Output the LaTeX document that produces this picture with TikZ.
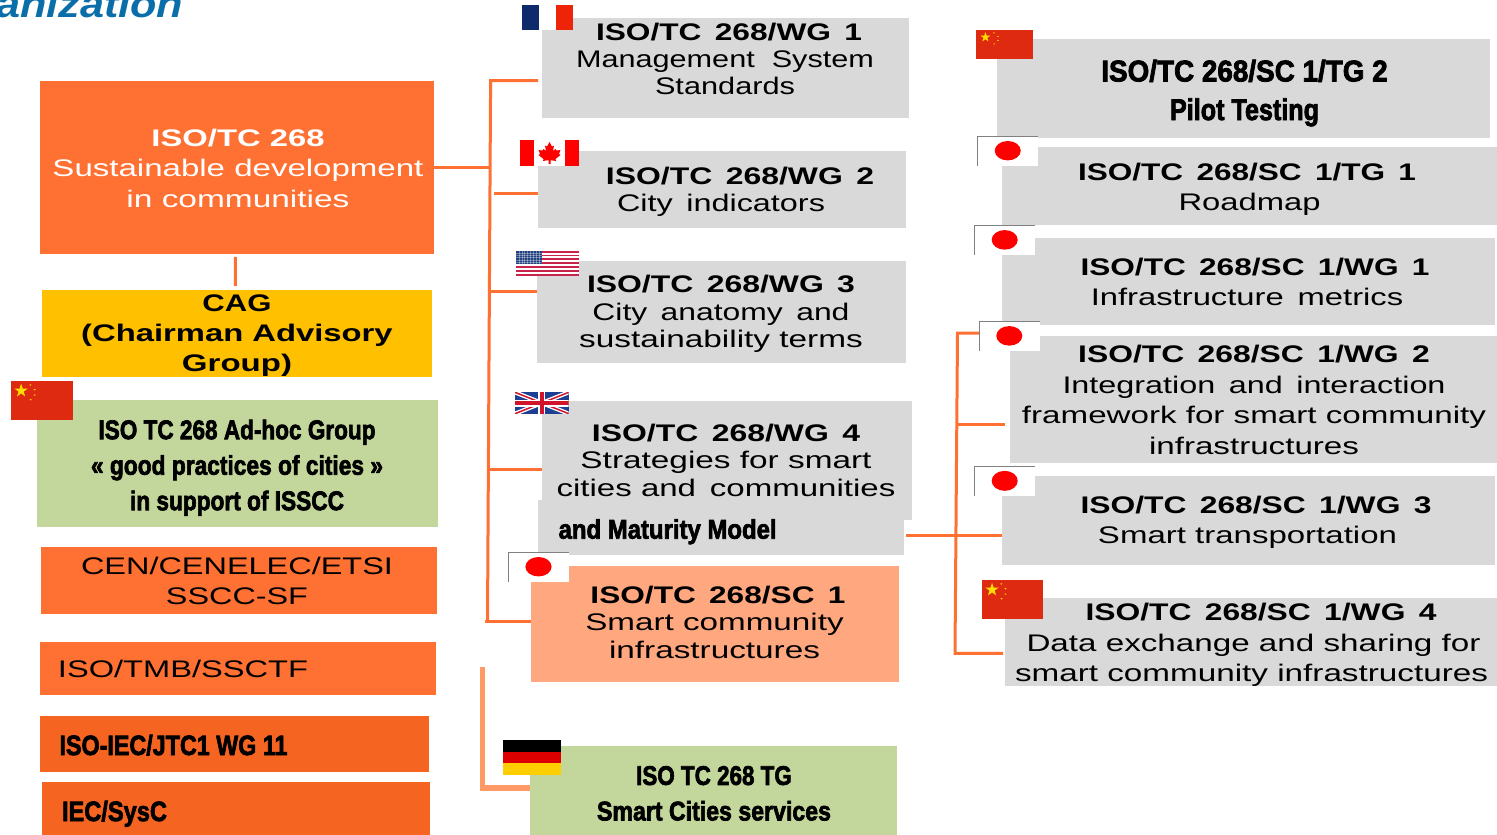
\documentclass[tikz,border=0pt]{standalone}
\usepackage{graphicx}
\usepackage{fontspec}
\setmainfont{Liberation Sans}
\newfontfamily\heavy[BoldFeatures={FakeBold=2.6}]{Liberation Sans}
\usetikzlibrary{shapes.geometric,calc}
\definecolor{orA}{HTML}{FF7033}
\definecolor{orB}{HTML}{F66422}
\definecolor{orC}{HTML}{FFA77F}
\definecolor{orD}{HTML}{FF9A66}
\definecolor{yel}{HTML}{FFC000}
\definecolor{grn}{HTML}{C3D69B}
\definecolor{gry}{HTML}{D9D9D9}
\definecolor{cnred}{HTML}{DE2A10}
\definecolor{cnyel}{HTML}{FFDE00}
\definecolor{ttl}{HTML}{0A6FA8}
\definecolor{frblue}{HTML}{0F2A6B}
\definecolor{frred}{HTML}{EE2409}
\definecolor{usred}{HTML}{C8244A}
\definecolor{usblue}{HTML}{1F3F7F}
\definecolor{ukblue}{HTML}{1C3F94}
\definecolor{ukred}{HTML}{CF142B}
\definecolor{dered}{HTML}{DD0000}
\definecolor{deyel}{HTML}{FFCE00}
\newcommand\fs[2]{\fontsize{#1}{#2}\selectfont}
\newcommand\gp{\hspace{.42em}}
% one line: target width, horizontal shift from the node centre, text
\newcommand\tline[3]{\hspace*{2\dimexpr #2pt\relax}\rule{0pt}{.716em}\smash{\resizebox{#1pt}{\height}{#3}}}
\newcommand\tb[3]{\tline{#1}{#2}{\bfseries #3}}
\tikzset{
  rect/.style={rectangle,inner sep=0pt,outer sep=0pt,draw=none,anchor=north west},
  txt/.style={inner sep=0pt,outer sep=0pt,align=center,text=black},
  conn/.style={draw=orA,line width=3pt,line cap=butt,line join=miter},
  connB/.style={draw=orD,line width=5.7pt,line join=miter},
}
\newcommand\bx[6]{\node[rect,fill=#2,minimum width={(#5-#3)*1pt},minimum height={(#6-#4)*1pt}] (#1) at (#3,#4) {};}
\newcommand\tx[5]{\node[txt,#4] (#1) at (#2,#3) {#5};}
\newcommand\cnflag[5]{%
  \bx{#1}{cnred}{#2}{#3}{#4}{#5}
  \begin{scope}[shift={(#2,#3)},xscale=#4-#2,yscale=#5-#3]
    \node[star,star points=5,star point ratio=2.618,fill=cnyel,inner sep=0pt,minimum size={0.36*(#5-#3)*1pt}] (#1s) at (.165,.25) {};
    \fill[cnyel] (.315,.1) circle (.018) (.385,.22) circle (.018) (.385,.36) circle (.018) (.32,.48) circle (.018);
  \end{scope}}
\newcommand\jpflag[5]{%
  \bx{#1}{white}{#2}{#3}{#4}{#5}
  \begin{scope}[shift={(#2,#3)},xscale=#4-#2,yscale=#5-#3]
    \draw[gray,line width=.8pt] (0,1) -- (0,0) -- (1,0);
    \fill[red] (.5,.49) ellipse (.215 and .33);
  \end{scope}}
\begin{document}
\begin{tikzpicture}[x=1pt,y=-1pt]
\useasboundingbox (0,0) rectangle (1497,835);
\fill[white] (0,0) rectangle (1497,835);
\node[inner sep=0pt,anchor=base west,text=ttl,font=\fs{38}{40}\itshape\bfseries] (title) at (-4,17) {\resizebox{187pt}{\height}{anization}};
% ---- left column
\bx{main}{orA}{40}{81}{434}{254}
\tx{mainT}{238}{168}{text=white,font=\fs{24}{30.5}}{\tb{173}{0}{ISO/TC 268}\\\tline{371}{0}{Sustainable development}\\\tline{223}{0}{in communities}}
\bx{cag}{yel}{41.5}{290}{432}{377}
\tx{cagT}{237}{333}{font=\fs{24}{30}}{\tb{69}{0}{CAG}\\\tb{311.5}{0}{(Chairman Advisory}\\\tb{110}{0}{Group)}}
\bx{adhoc}{grn}{37}{400}{438}{527}
\tx{adhocT}{237}{465}{font=\fs{27}{35.5}\heavy\bfseries}{\tline{277}{0}{ISO TC 268 Ad-hoc Group}\\\tline{292}{0}{« good practices of cities »}\\\tline{214}{0}{in support of ISSCC}}
\bx{cen}{orA}{41}{547}{437}{614}
\tx{cenT}{237}{581}{font=\fs{24}{30}}{\tline{312}{0}{CEN/CENELEC/ETSI}\\\tline{142}{0}{SSCC-SF}}
\bx{tmb}{orA}{40}{642}{436}{695}
\tx{tmbT}{183}{669}{font=\fs{24}{30}}{\tline{250}{0}{ISO/TMB/SSCTF}}
\bx{jtc}{orB}{40}{716}{429}{772}
\tx{jtcT}{173.5}{745}{font=\fs{28}{30}\heavy\bfseries}{\tline{228}{0}{ISO-IEC/JTC1 WG 11}}
\bx{sysc}{orB}{42}{782}{430}{835}
\tx{syscT}{114.5}{811}{font=\fs{28}{30}\heavy\bfseries}{\tline{105}{0}{IEC/SysC}}
% ---- middle column
\bx{wga}{gry}{541.5}{18}{909}{118}
\tx{wgaT}{725}{59}{font=\fs{24}{27}}{\tb{266}{4}{ISO/TC\gp268/WG\gp1}\\\tline{298}{0}{Management\ \ System}\\\tline{140}{0}{Standards}}
\bx{wgb}{gry}{538}{151}{906}{228}
\tx{wgbT}{730}{189}{font=\fs{24}{27}}{\tb{268}{10}{ISO/TC\gp268/WG\gp2}\\\tline{208}{-9}{City\gp indicators}}
\bx{wgc}{gry}{537}{261}{906}{363}
\tx{wgcT}{721}{311.5}{font=\fs{24}{27.5}}{\tb{268}{0}{ISO/TC\gp268/WG\gp3}\\\tline{257}{0}{City\gp anatomy\gp and}\\\tline{283.6}{0}{sustainability terms}}
\bx{wgd}{gry}{541.5}{401}{911.5}{520}
\tx{wgdT}{726}{460}{font=\fs{24}{27.5}}{\tb{268}{0}{ISO/TC\gp268/WG\gp4}\\\tline{291}{0}{Strategies for smart}\\\tline{338.7}{0}{cities and\gp communities}}
\bx{mat}{gry}{538}{500}{904}{555}
\tx{matT}{667.6}{529}{font=\fs{27}{30}\heavy\bfseries}{\tline{218}{0}{and Maturity Model}}
\bx{sc}{orC}{531}{566}{898.6}{681.5}
\tx{scT}{714.5}{622}{font=\fs{24}{27.5}}{\tb{255}{3.5}{ISO/TC\gp268/SC\gp1}\\\tline{258.3}{0}{Smart community}\\\tline{211}{0}{infrastructures}}
\bx{tg}{grn}{530}{746}{897}{835}
\tx{tgT}{714}{793}{font=\fs{27}{35.5}\heavy\bfseries}{\tline{155.7}{0}{ISO TC 268 TG}\\\tline{234}{0}{Smart Cities services}}
% ---- right column
\bx{ra}{gry}{997}{39}{1490}{137.5}
\tx{raT}{1244.5}{90}{font=\fs{30}{38.6}\heavy\bfseries}{\tline{286.4}{0}{ISO/TC 268/SC 1/TG 2}\\\tline{149}{0}{Pilot Testing}}
\bx{rb}{gry}{1001.5}{146.5}{1497}{225}
\tx{rbT}{1248}{186.5}{font=\fs{24}{30}}{\tb{338}{-1}{ISO/TC\gp268/SC\gp1/TG\gp1}\\\tline{142}{1.5}{Roadmap}}
\bx{rc}{gry}{1001.5}{238}{1495}{325}
\tx{rcT}{1251}{282}{font=\fs{24}{30}}{\tb{349}{4}{ISO/TC\gp268/SC\gp1/WG\gp1}\\\tline{312.5}{-4}{Infrastructure\gp metrics}}
\bx{rd}{gry}{1010}{336}{1497}{462.5}
\tx{rdT}{1254}{400}{font=\fs{24}{30.5}}{\tb{351.6}{0}{ISO/TC\gp268/SC\gp1/WG\gp2}\\\tline{383}{0}{Integration\gp and\gp interaction}\\\tline{464}{0}{framework for smart community}\\\tline{210}{0}{infrastructures}}
\bx{re}{gry}{1001.5}{476}{1495}{564.5}
\tx{reT}{1252}{520}{font=\fs{24}{30}}{\tb{351}{4}{ISO/TC\gp268/SC\gp1/WG\gp3}\\\tline{299}{-4.5}{Smart transportation}}
\bx{rf}{gry}{1005}{598}{1497}{686}
\tx{rfT}{1253}{642.5}{font=\fs{24}{30.5}}{\tb{351}{8}{ISO/TC\gp268/SC\gp1/WG\gp4}\\\tline{454}{0.5}{Data exchange and sharing for}\\\tline{473}{-1.5}{smart community infrastructures}}
% ---- connectors
\coordinate (jm) at (490.5,167.7);
\coordinate (tTop) at (490.6,80.5);
\coordinate (tBot) at (487.5,621.7);
\coordinate (jb) at (494.4,193.3);
\coordinate (jc) at (490,291);
\coordinate (jd) at (487.8,469.3);
\coordinate (je) at (485,621.7);
\draw[conn] (main.east |- jm) -- (jm);
\draw[conn] ($(main.south)+(-1.5,3)$) -- ($(cag.north)+(-1.5,-4)$);
\draw[conn] ($(wga.west |- tTop)+(-3.5,0)$) -- (tTop) -- (tBot);
\draw[conn] (jb) -- (wgb.west |- jb);
\draw[conn] (jc) -- (wgc.west |- jc);
\draw[conn] (jd) -- (wgd.west |- jd);
\draw[conn] (je) -- (sc.west |- je);
\coordinate (rTop) at (957.5,333);
\coordinate (rBot) at (955,653.3);
\coordinate (rJ) at (956,535.7);
\coordinate (rJd) at (956.8,424);
\coordinate (rJe) at (956,535);
\draw[conn] ([xshift=2pt]mat.east |- rJ) -- (rJ);
\draw[conn] ($(rd.west |- rTop)+(-31,0)$) -- (rTop) -- (rBot) -- ($(rf.west |- rBot)+(-2,0)$);
\draw[conn] (rJd) -- ($(rd.west |- rJd)+(-5,0)$);
\draw[conn] (rJe) -- (re.west |- rJe);
\coordinate (gT) at (482.6,667);
\coordinate (gB) at (482.6,787.7);
\draw[connB] (gT) -- (gB) -- (tg.west |- gB);
% ---- flags
\bx{fr}{white}{522}{5}{572.5}{30}
\bx{frb}{frblue}{522}{5}{539}{30}
\bx{frr}{frred}{556}{5}{572.5}{30}
\bx{ca}{white}{519.7}{140}{579.4}{166}
\bx{caa}{red}{519.7}{140}{534}{166}
\bx{cab}{red}{564.5}{140}{579.4}{166}
\begin{scope}[shift={(549.5,153)}]
  \fill[red] (0,-11) -- (2.5,-6.5) -- (4.5,-7.5) -- (3.5,-2) -- (6,-4) -- (7,-2.5) -- (11,-3) -- (9.5,1) -- (11,2) -- (6,6) -- (6.5,8) -- (1,7.2) -- (1,11) -- (-1,11) -- (-1,7.2) -- (-6.5,8) -- (-6,6) -- (-11,2) -- (-9.5,1) -- (-11,-3) -- (-7,-2.5) -- (-6,-4) -- (-3.5,-2) -- (-4.5,-7.5) -- (-2.5,-6.5) -- cycle;
\end{scope}
\bx{us}{white}{516}{250.7}{579.4}{275.7}
\begin{scope}[shift={(516,250.7)},xscale=63.4,yscale=25]
  \foreach \i in {0,2,...,12} \fill[usred] (0,\i/13) rectangle (1,{(\i+1)/13});
  \fill[usblue] (0,0) rectangle (.41,.54);
  \foreach \i in {1,...,8} \draw[white,opacity=.35,line width=.35pt] (\i*.0455,0) -- (\i*.0455,.54);
  \foreach \i in {1,...,5} \draw[white,opacity=.35,line width=.35pt] (0,\i*.09) -- (.41,\i*.09);
\end{scope}
\bx{uk}{ukblue}{515}{392.3}{568.7}{413.7}
\begin{scope}
  \clip (uk.north west) rectangle (uk.south east);
  \draw[white,line width=4.2pt] (uk.north west) -- (uk.south east) (uk.south west) -- (uk.north east);
  \draw[ukred,line width=1.5pt] (uk.north west) -- (uk.south east) (uk.south west) -- (uk.north east);
  \draw[white,line width=7pt] (uk.north) -- (uk.south) (uk.west) -- (uk.east);
  \draw[ukred,line width=4.2pt] (uk.north) -- (uk.south) (uk.west) -- (uk.east);
\end{scope}
\jpflag{jpa}{508}{552.3}{569}{581.7}
\jpflag{jpb}{977.5}{136.3}{1038}{165.7}
\jpflag{jpc}{974.4}{225.3}{1035}{255}
\jpflag{jpd}{979}{321.3}{1039.6}{351}
\jpflag{jpe}{974.4}{466}{1035}{496.3}
\cnflag{cna}{976}{30}{1033}{59}
\cnflag{cnb}{11}{381}{72.5}{420}
\cnflag{cnc}{982}{580}{1043}{619}
\bx{de}{black}{503}{740}{561}{752}
\bx{deb}{dered}{503}{751.7}{561}{763.4}
\bx{dec}{deyel}{503}{763.4}{561}{775}
\end{tikzpicture}
\end{document}
